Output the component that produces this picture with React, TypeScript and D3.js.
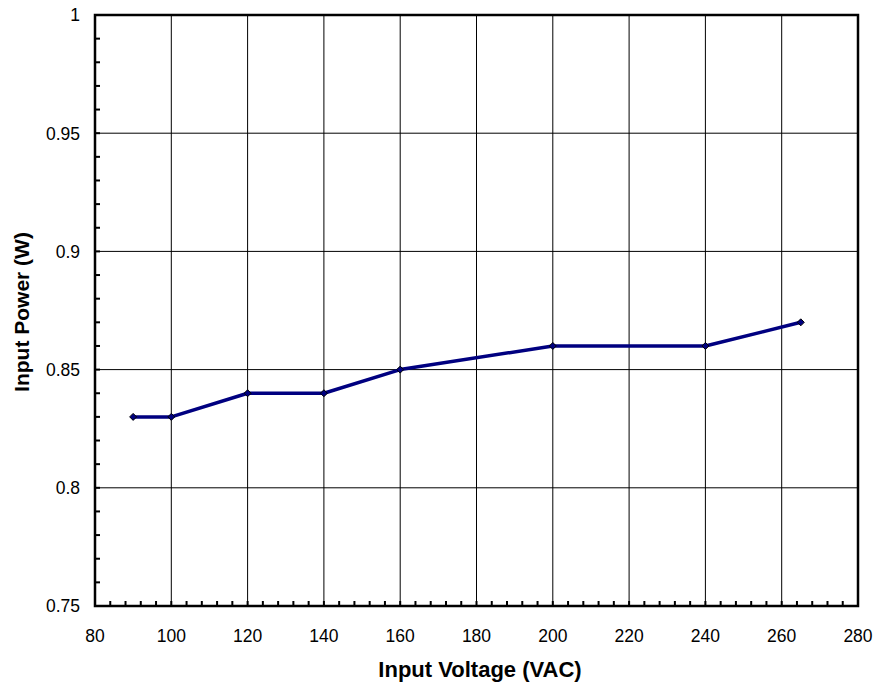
import React from "react";
import * as d3 from "d3";

const voltages = [90, 100, 120, 140, 160, 200, 240, 265];
const powers = [0.83, 0.83, 0.84, 0.84, 0.85, 0.86, 0.86, 0.87];
const xTicks = [80, 100, 120, 140, 160, 180, 200, 220, 240, 260, 280];
const yTicks = [0.75, 0.8, 0.85, 0.9, 0.95, 1];

const W = 877, H = 685;
const L = 95, R = 858, T = 15, B = 606;

export default function App() {
  const x = d3.scaleLinear().domain([80, 280]).range([L, R]);
  const y = d3.scaleLinear().domain([0.75, 1]).range([B, T]);
  const xMinor = d3.range(80, 280.001, 4);
  const yMinor = d3.range(0, 26).map((i) => 0.75 + i * 0.01);
  const line = d3
    .line<number>()
    .x((_, i) => x(voltages[i]))
    .y((d) => y(d));
  const font = "'Liberation Sans', Arial, sans-serif";
  return (
    <div style={{ position: "absolute", left: 0, top: 0 }}>
      <svg width={W} height={H} style={{ display: "block", background: "#fff" }} fontFamily={font}>
        <rect x={0} y={0} width={W} height={H} fill="#fff" />
        {xTicks.map((t) => (
          <line key={"gx" + t} x1={x(t)} x2={x(t)} y1={T} y2={B} stroke="#000" strokeWidth={1} />
        ))}
        {yTicks.map((t) => (
          <line key={"gy" + t} x1={L} x2={R} y1={y(t)} y2={y(t)} stroke="#000" strokeWidth={1} />
        ))}
        {xMinor.map((t, i) => (
          <line key={"mx" + i} x1={x(t)} x2={x(t)} y1={B} y2={B - 5} stroke="#000" strokeWidth={2} />
        ))}
        {yMinor.map((t, i) => (
          <line key={"my" + i} x1={L} x2={L + 5} y1={y(t)} y2={y(t)} stroke="#000" strokeWidth={2} />
        ))}
        <rect x={L} y={T} width={R - L} height={B - T} fill="none" stroke="#000" strokeWidth={2.5} />
        <path d={line(powers) || ""} fill="none" stroke="#000080" strokeWidth={3.5} strokeLinejoin="round" />
        {voltages.map((v, i) => {
          const cx = x(v), cy = y(powers[i]);
          return (
            <path
              key={"m" + i}
              d={`M${cx},${cy - 3.5}L${cx + 3.5},${cy}L${cx},${cy + 3.5}L${cx - 3.5},${cy}Z`}
              fill="#000080"
              stroke="#000"
              strokeWidth={1}
            />
          );
        })}
        {xTicks.map((t) => (
          <text key={"xl" + t} x={x(t)} y={642} textAnchor="middle" fontSize={17.5} fill="#000">
            {t}
          </text>
        ))}
        {yTicks.map((t) => (
          <text key={"yl" + t} x={80} y={y(t) + 6.3} textAnchor="end" fontSize={17.5} fill="#000">
            {String(t)}
          </text>
        ))}
        <text x={480} y={677} textAnchor="middle" fontSize={22} fontWeight="bold" fill="#000">
          Input Voltage (VAC)
        </text>
        <text
          transform={`translate(29,312) rotate(-90)`}
          textAnchor="middle"
          fontSize={21}
          fontWeight="bold"
          fill="#000"
        >
          Input Power (W)
        </text>
      </svg>
    </div>
  );
}
